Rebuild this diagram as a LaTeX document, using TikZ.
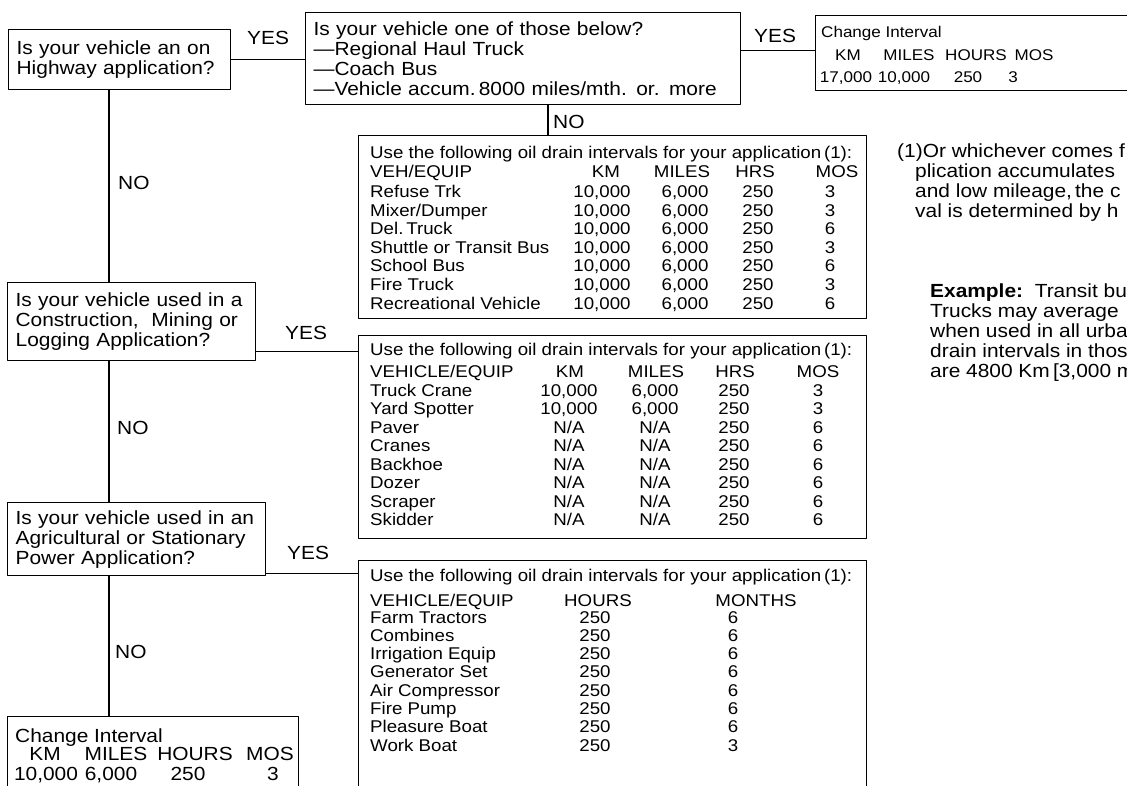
\documentclass[tikz,border=0pt]{standalone}
\usepackage{fontspec}
\setmainfont{Liberation Sans}[FakeStretch=1.1]
\newcommand{\qfont}{\fontsize{19}{20}\selectfont}
\newcommand{\tfont}{\fontsize{17}{18.5}\selectfont}
\newcommand{\cfont}{\fontsize{15.5}{18}\selectfont}

\begin{document}
\begin{tikzpicture}[x=1pt,y=-1pt,line cap=round,line join=round,
  box/.style={draw,line width=1.3pt,anchor=north west,inner sep=0pt},
  qbox/.style={box,align=left,font=\qfont,inner xsep=8pt},
  lbl/.style={font=\qfont,inner sep=0pt,anchor=west},
  cell/.style={font=\tfont,inner sep=0pt,anchor=base},
  rowname/.style={font=\tfont,inner sep=0pt,anchor=base west},
  bigcell/.style={font=\qfont,inner sep=0pt,anchor=base},
  note/.style={font=\qfont,inner sep=0pt,anchor=base west,align=left},
  link/.style={line width=1.3pt}]
\useasboundingbox (0,0) rectangle (1127,786);
\clip (0,0) rectangle (1127,786);

% questions
\node[qbox,minimum width=222pt,minimum height=60pt,text width=206pt] (hwy) at (8,29)
  {Is your vehicle an on\\Highway application?};
\node[qbox,minimum width=435pt,minimum height=92pt,text width=419pt] (onelist) at (305,12)
  {Is your vehicle one of those below?\\---Regional Haul Truck\\---Coach Bus\\---Vehicle accum.\,8000 miles/mth. or. more};
\node[qbox,minimum width=248pt,minimum height=78pt,text width=232pt] (constr) at (7,282)
  {Is your vehicle used in a\\Construction,\ \ Mining or\\Logging Application?};
\node[qbox,minimum width=258pt,minimum height=73pt,text width=242pt] (agri) at (7,502)
  {Is your vehicle used in an\\Agricultural or Stationary\\Power Application?};

% change interval boxes
\node[box,minimum width=340pt,minimum height=75pt] (chgA) at (815,15) {};
\node[rowname,font=\cfont] (chgAt) at (821,38) {Change Interval};
\node[cell,font=\cfont] (chgAkm) at (848,61) {KM};
\node[cell,font=\cfont] (chgAmi) at (909,61) {MILES};
\node[cell,font=\cfont] (chgAhr) at (976,61) {HOURS};
\node[cell,font=\cfont] (chgAmo) at (1034,61) {MOS};
\node[cell,font=\cfont] (chgAkmv) at (846,83) {17,000};
\node[cell,font=\cfont] (chgAmiv) at (904,83) {10,000};
\node[cell,font=\cfont] (chgAhrv) at (968,83) {250};
\node[cell,font=\cfont] (chgAmov) at (1013,83) {3};

\node[box,minimum width=291pt,minimum height=100pt] (chgB) at (7,716) {};
\node[note] (chgBt) at (15,742) {Change Interval};
\node[bigcell] (chgBkm) at (45,760) {KM};
\node[bigcell] (chgBmi) at (116,760) {MILES};
\node[bigcell] (chgBhr) at (195,760) {HOURS};
\node[bigcell] (chgBmo) at (270,760) {MOS};
\node[bigcell] (chgBkmv) at (46,780) {10,000};
\node[bigcell] (chgBmiv) at (111,780) {6,000};
\node[bigcell] (chgBhrv) at (188,780) {250};
\node[bigcell] (chgBmov) at (273,780) {3};

% table A: on highway, not listed
\node[box,minimum width=508pt,minimum height=183pt] (tabA) at (358,135) {};
\node[rowname] (hdA) at (370,159) {Use the following oil drain intervals for your application\,(1):};
\node[rowname] (colA) at (370,178) {VEH/EQUIP};
\node[cell] (colAkm) at (606,178) {KM};
\node[cell] (colAmi) at (682,178) {MILES};
\node[cell] (colAhr) at (755,178) {HRS};
\node[cell] (colAmo) at (837,178) {MOS};
\foreach \veh/\mos [count=\i from 0] in {Refuse Trk/3,{Mixer/Dumper}/3,Del.\,Truck/6,
    Shuttle or Transit Bus/3,School Bus/6,Fire Truck/3,Recreational Vehicle/6}{
  \node[rowname] (vehA\i) at (370,198+18.5*\i) {\veh};
  \node[cell] (kmA\i) at (602,198+18.5*\i) {10,000};
  \node[cell] (miA\i) at (685,198+18.5*\i) {6,000};
  \node[cell] (hrA\i) at (758,198+18.5*\i) {250};
  \node[cell] (moA\i) at (830,198+18.5*\i) {\mos};
}

% table B: construction, mining, logging
\node[box,minimum width=508pt,minimum height=203pt] (tabB) at (358,335) {};
\node[rowname] (hdB) at (370,355) {Use the following oil drain intervals for your application\,(1):};
\node[rowname] (colB) at (370,377) {VEHICLE/EQUIP};
\node[cell] (colBkm) at (570,377) {KM};
\node[cell] (colBmi) at (656,377) {MILES};
\node[cell] (colBhr) at (735,377) {HRS};
\node[cell] (colBmo) at (818,377) {MOS};
\foreach \veh/\km/\mi/\mos [count=\i from 0] in {Truck Crane/{10,000}/{6,000}/3,
    Yard Spotter/{10,000}/{6,000}/3,Paver/{N/A}/{N/A}/6,Cranes/{N/A}/{N/A}/6,
    Backhoe/{N/A}/{N/A}/6,Dozer/{N/A}/{N/A}/6,Scraper/{N/A}/{N/A}/6,Skidder/{N/A}/{N/A}/6}{
  \node[rowname] (vehB\i) at (370,396+18.5*\i) {\veh};
  \node[cell] (kmB\i) at (569,396+18.5*\i) {\km};
  \node[cell] (miB\i) at (655,396+18.5*\i) {\mi};
  \node[cell] (hrB\i) at (734,396+18.5*\i) {250};
  \node[cell] (moB\i) at (818,396+18.5*\i) {\mos};
}

% table C: agricultural, stationary
\node[box,minimum width=508pt,minimum height=250pt] (tabC) at (358,560) {};
\node[rowname] (hdC) at (370,581) {Use the following oil drain intervals for your application\,(1):};
\node[rowname] (colC) at (370,606) {VEHICLE/EQUIP};
\node[cell] (colChr) at (598,606) {HOURS};
\node[cell] (colCmo) at (756,606) {MONTHS};
\foreach \veh/\mos [count=\i from 0] in {Farm Tractors/6,Combines/6,Irrigation Equip/6,
    Generator Set/6,Air Compressor/6,Fire Pump/6,Pleasure Boat/6,Work Boat/3}{
  \node[rowname] (vehC\i) at (370,623+18.3*\i) {\veh};
  \node[cell] (hrC\i) at (595,623+18.3*\i) {250};
  \node[cell] (moC\i) at (733,623+18.3*\i) {\mos};
}

% links
\coordinate (spine) at (109,0);
\coordinate (noA) at (548,0);
\draw[link] (hwy.south -| spine) -- (constr.north -| spine);
\draw[link] (constr.south -| spine) -- (agri.north -| spine);
\draw[link] (agri.south -| spine) -- (chgB.north -| spine);
\draw[link] (hwy.east) -- (hwy.east -| onelist.west);
\draw[link] ([yshift=8pt]onelist.east) -- ([yshift=8pt]onelist.east -| chgA.west);
\draw[link] (onelist.south -| noA) -- (tabA.north -| noA);
\draw[link] ([yshift=10pt]constr.south east) -- ([yshift=10pt]constr.south east -| tabB.west);
\draw[link] ([yshift=3pt]agri.south east) -- ([yshift=3pt]agri.south east -| tabC.west);

\node[lbl] (yes1) at (247,38) {YES};
\node[lbl] (yes2) at (754,36) {YES};
\node[lbl] (yes3) at (285,333) {YES};
\node[lbl] (yes4) at (287,553) {YES};
\node[lbl] (no1) at (553,122) {NO};
\node[lbl] (no2) at (118,183) {NO};
\node[lbl] (no3) at (117,428) {NO};
\node[lbl] (no4) at (115,652) {NO};

% footnote and example
\node[note] (fn) at (915,218) {\hspace*{-18pt}(1)Or whichever comes f\\plication accumulates\\and low mileage,\,the c\\val is determined by h};
\node[note] (ex) at (930,377) {\textbf{Example:}\ \ Transit bus\\Trucks may average\\when used in all urba\\drain intervals in thos\\are 4800 Km\,[3,000 m};
\end{tikzpicture}
\end{document}
